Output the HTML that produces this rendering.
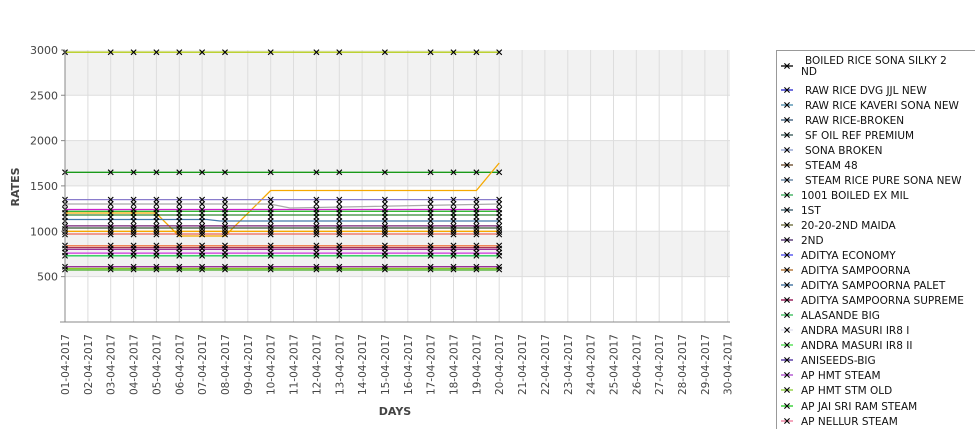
<!DOCTYPE html>
<html><head><meta charset="utf-8"><style>
html,body{margin:0;background:#fff;width:975px;height:429px;overflow:hidden;font-family:"DejaVu Sans","Liberation Sans",sans-serif}
</style></head><body>
<svg width="975" height="429" xmlns="http://www.w3.org/2000/svg" style="position:absolute;left:0;top:0;display:block">
<defs>
<path id="m" d="M-2.6,-2.6L2.6,2.6M2.6,-2.6L-2.6,2.6" stroke="#000" stroke-width="1.1"/>
<g id="row">
<use href="#m" x="65"/><use href="#m" x="110.7"/><use href="#m" x="133.6"/><use href="#m" x="156.4"/><use href="#m" x="179.3"/><use href="#m" x="202.1"/><use href="#m" x="225"/><use href="#m" x="270.7"/><use href="#m" x="316.4"/><use href="#m" x="339.3"/><use href="#m" x="384.9"/><use href="#m" x="430.6"/><use href="#m" x="453.5"/><use href="#m" x="476.4"/><use href="#m" x="499.2"/>
</g>
</defs>
<rect x="65" y="50" width="665" height="272" fill="#fff"/>
<rect x="65" y="50" width="665" height="45.3" fill="#f2f2f2"/>
<rect x="65" y="140.6" width="665" height="45.3" fill="#f2f2f2"/>
<rect x="65" y="231.3" width="665" height="45.3" fill="#f2f2f2"/>
<g stroke="#ddd" stroke-width="1">
<line x1="65" x2="730" y1="95.3" y2="95.3"/><line x1="65" x2="730" y1="140.6" y2="140.6"/><line x1="65" x2="730" y1="185.9" y2="185.9"/><line x1="65" x2="730" y1="231.3" y2="231.3"/><line x1="65" x2="730" y1="276.6" y2="276.6"/>
<path d="M87.9,50V322M110.7,50V322M133.6,50V322M156.4,50V322M179.3,50V322M202.1,50V322M225,50V322M247.8,50V322M270.7,50V322M293.5,50V322M316.4,50V322M339.3,50V322M362.1,50V322M384.9,50V322M407.8,50V322M430.6,50V322M453.5,50V322M476.4,50V322M499.2,50V322M522.1,50V322M544.9,50V322M567.8,50V322M590.6,50V322M613.5,50V322M636.3,50V322M659.2,50V322M682,50V322M704.9,50V322M727.7,50V322"/>
</g>
<g stroke-width="1.3" fill="none">
<line x1="65" x2="499" y1="52.2" y2="52.2" stroke="#b5cc18"/>
<line x1="65" x2="499" y1="172.3" y2="172.3" stroke="#1a9a1a"/>
<polyline points="65,213 156,213 179,236 225,236 270.7,190.5 476.4,190.5 499.2,163" stroke="#f5a800"/>
<line x1="65" x2="499" y1="199.6" y2="199.6" stroke="#8a7ccc"/>
<polyline points="65,204 270,204 290,208 499,204" stroke="#aaa"/>
<line x1="65" x2="499" y1="209.5" y2="209.5" stroke="#cc22cc"/>
<line x1="65" x2="499" y1="211.3" y2="211.3" stroke="#33bb33"/>
<line x1="65" x2="499" y1="215" y2="215" stroke="#338833"/>
<polyline points="65,219.5 207,219.5 220,221 499,221" stroke="#4477aa"/>
<line x1="65" x2="499" y1="225.9" y2="225.9" stroke="#772277"/>
<line x1="65" x2="499" y1="228" y2="228" stroke="#335533"/>
<line x1="65" x2="499" y1="231.3" y2="231.3" stroke="#f5a800"/>
<line x1="65" x2="499" y1="234" y2="234" stroke="#ee6655"/>
<line x1="65" x2="499" y1="245.8" y2="245.8" stroke="#ee7744"/>
<line x1="65" x2="499" y1="247.6" y2="247.6" stroke="#aa3355"/>
<line x1="65" x2="499" y1="249.4" y2="249.4" stroke="#993399"/>
<line x1="65" x2="499" y1="253.1" y2="253.1" stroke="#cc33dd"/>
<line x1="65" x2="499" y1="255.8" y2="255.8" stroke="#22cc55"/>
<line x1="65" x2="499" y1="266.7" y2="266.7" stroke="#993399"/>
<line x1="65" x2="499" y1="268.5" y2="268.5" stroke="#88cc22"/>
<line x1="65" x2="499" y1="270" y2="270" stroke="#44aa22"/>
</g>
<use href="#row" y="52.2"/><use href="#row" y="172.3"/>
<use href="#row" y="199.6"/><use href="#row" y="204"/><use href="#row" y="209.5"/><use href="#row" y="213"/><use href="#row" y="217"/><use href="#row" y="221"/><use href="#row" y="226"/><use href="#row" y="229"/><use href="#row" y="232"/><use href="#row" y="234.5"/>
<use href="#row" y="245.5"/><use href="#row" y="248.5"/><use href="#row" y="252.5"/><use href="#row" y="255.8"/><use href="#row" y="266.7"/><use href="#row" y="269.5"/>
<g stroke="#888" stroke-width="1">
<line x1="65" x2="65" y1="50" y2="322"/><line x1="60" x2="730" y1="322" y2="322"/>
<path d="M61,50H65M61,95.3H65M61,140.6H65M61,185.9H65M61,231.3H65M61,276.6H65"/>
</g>
<g font-size="11" fill="#444" text-anchor="end">
<text x="58" y="54">3000</text><text x="58" y="99.3">2500</text><text x="58" y="144.6">2000</text><text x="58" y="189.9">1500</text><text x="58" y="235.3">1000</text><text x="58" y="280.6">500</text>
</g>
<g font-size="10.5" fill="#444" text-anchor="end">
<text transform="translate(69,334) rotate(-90)">01-04-2017</text>
<text transform="translate(91.9,334) rotate(-90)">02-04-2017</text>
<text transform="translate(114.7,334) rotate(-90)">03-04-2017</text>
<text transform="translate(137.6,334) rotate(-90)">04-04-2017</text>
<text transform="translate(160.4,334) rotate(-90)">05-04-2017</text>
<text transform="translate(183.3,334) rotate(-90)">06-04-2017</text>
<text transform="translate(206.1,334) rotate(-90)">07-04-2017</text>
<text transform="translate(229,334) rotate(-90)">08-04-2017</text>
<text transform="translate(251.8,334) rotate(-90)">09-04-2017</text>
<text transform="translate(274.7,334) rotate(-90)">10-04-2017</text>
<text transform="translate(297.5,334) rotate(-90)">11-04-2017</text>
<text transform="translate(320.4,334) rotate(-90)">12-04-2017</text>
<text transform="translate(343.3,334) rotate(-90)">13-04-2017</text>
<text transform="translate(366.1,334) rotate(-90)">14-04-2017</text>
<text transform="translate(388.9,334) rotate(-90)">15-04-2017</text>
<text transform="translate(411.8,334) rotate(-90)">16-04-2017</text>
<text transform="translate(434.6,334) rotate(-90)">17-04-2017</text>
<text transform="translate(457.5,334) rotate(-90)">18-04-2017</text>
<text transform="translate(480.4,334) rotate(-90)">19-04-2017</text>
<text transform="translate(503.2,334) rotate(-90)">20-04-2017</text>
<text transform="translate(526.1,334) rotate(-90)">21-04-2017</text>
<text transform="translate(548.9,334) rotate(-90)">22-04-2017</text>
<text transform="translate(571.8,334) rotate(-90)">23-04-2017</text>
<text transform="translate(594.6,334) rotate(-90)">24-04-2017</text>
<text transform="translate(617.5,334) rotate(-90)">25-04-2017</text>
<text transform="translate(640.3,334) rotate(-90)">26-04-2017</text>
<text transform="translate(663.2,334) rotate(-90)">27-04-2017</text>
<text transform="translate(686,334) rotate(-90)">28-04-2017</text>
<text transform="translate(708.9,334) rotate(-90)">29-04-2017</text>
<text transform="translate(731.7,334) rotate(-90)">30-04-2017</text>
</g>
<text x="395" y="415" font-size="11" font-weight="bold" fill="#444" text-anchor="middle">DAYS</text>
<text transform="translate(19,187) rotate(-90)" font-size="11" font-weight="bold" fill="#444" text-anchor="middle">RATES</text>
<path d="M776.5,429V50.5H975" fill="none" stroke="#999"/>
<g stroke-width="1.3">
<line x1="781" x2="793" y1="66" y2="66" stroke="#000"/><line x1="781" x2="793" y1="90" y2="90" stroke="#2222cc"/><line x1="781" x2="793" y1="105" y2="105" stroke="#4488aa"/><line x1="781" x2="793" y1="120" y2="120" stroke="#335577"/><line x1="781" x2="793" y1="135" y2="135" stroke="#335555"/><line x1="781" x2="793" y1="150" y2="150" stroke="#8899cc"/><line x1="781" x2="793" y1="165" y2="165" stroke="#664422"/><line x1="781" x2="793" y1="180" y2="180" stroke="#557799"/><line x1="781" x2="793" y1="195" y2="195" stroke="#33aa55"/><line x1="781" x2="793" y1="210" y2="210" stroke="#335566"/><line x1="781" x2="793" y1="225" y2="225" stroke="#666633"/><line x1="781" x2="793" y1="240" y2="240" stroke="#442266"/><line x1="781" x2="793" y1="255" y2="255" stroke="#4444ee"/><line x1="781" x2="793" y1="270" y2="270" stroke="#aa6622"/><line x1="781" x2="793" y1="285" y2="285" stroke="#336699"/><line x1="781" x2="793" y1="300" y2="300" stroke="#880044"/><line x1="781" x2="793" y1="315" y2="315" stroke="#33bb55"/><line x1="781" x2="793" y1="330" y2="330" stroke="#ddddee"/><line x1="781" x2="793" y1="345" y2="345" stroke="#44dd44"/><line x1="781" x2="793" y1="360" y2="360" stroke="#442299"/><line x1="781" x2="793" y1="375" y2="375" stroke="#aa44cc"/><line x1="781" x2="793" y1="390" y2="390" stroke="#88cc33"/><line x1="781" x2="793" y1="406" y2="406" stroke="#22cc22"/><line x1="781" x2="793" y1="421" y2="421" stroke="#ee7799"/>
</g>
<use href="#m" x="787" y="66"/><use href="#m" x="787" y="90"/><use href="#m" x="787" y="105"/><use href="#m" x="787" y="120"/><use href="#m" x="787" y="135"/><use href="#m" x="787" y="150"/><use href="#m" x="787" y="165"/><use href="#m" x="787" y="180"/><use href="#m" x="787" y="195"/><use href="#m" x="787" y="210"/><use href="#m" x="787" y="225"/><use href="#m" x="787" y="240"/><use href="#m" x="787" y="255"/><use href="#m" x="787" y="270"/><use href="#m" x="787" y="285"/><use href="#m" x="787" y="300"/><use href="#m" x="787" y="315"/><use href="#m" x="787" y="330"/><use href="#m" x="787" y="345"/><use href="#m" x="787" y="360"/><use href="#m" x="787" y="375"/><use href="#m" x="787" y="390"/><use href="#m" x="787" y="406"/><use href="#m" x="787" y="421"/>
<g font-size="10.5" fill="#111">
<text x="805" y="64">BOILED RICE SONA SILKY 2</text><text x="801" y="75">ND</text>
<text x="805" y="94">RAW RICE DVG JJL NEW</text>
<text x="805" y="109">RAW RICE KAVERI SONA NEW</text>
<text x="805" y="124">RAW RICE-BROKEN</text>
<text x="805" y="139">SF OIL REF PREMIUM</text>
<text x="805" y="154">SONA BROKEN</text>
<text x="805" y="169">STEAM 48</text>
<text x="805" y="184">STEAM RICE PURE SONA NEW</text>
<text x="801" y="199">1001 BOILED EX MIL</text>
<text x="801" y="214">1ST</text>
<text x="801" y="229">20-20-2ND MAIDA</text>
<text x="801" y="244">2ND</text>
<text x="801" y="259">ADITYA ECONOMY</text>
<text x="801" y="274">ADITYA SAMPOORNA</text>
<text x="801" y="289">ADITYA SAMPOORNA PALET</text>
<text x="801" y="304">ADITYA SAMPOORNA SUPREME</text>
<text x="801" y="319">ALASANDE BIG</text>
<text x="801" y="334">ANDRA MASURI IR8 I</text>
<text x="801" y="349">ANDRA MASURI IR8 II</text>
<text x="801" y="364">ANISEEDS-BIG</text>
<text x="801" y="379">AP HMT STEAM</text>
<text x="801" y="394">AP HMT STM OLD</text>
<text x="801" y="410">AP JAI SRI RAM STEAM</text>
<text x="801" y="425">AP NELLUR STEAM</text>
</g>
</svg>
</body></html>
